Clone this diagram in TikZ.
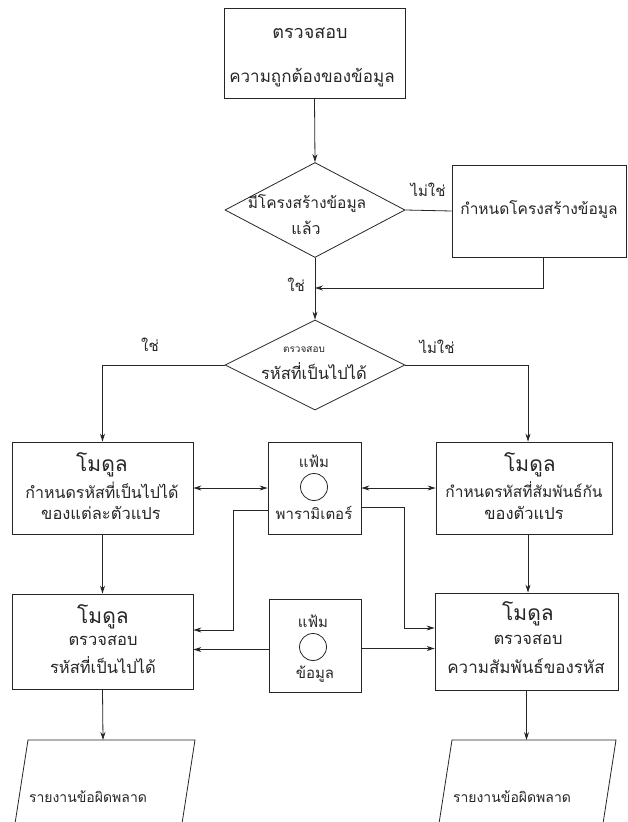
\documentclass[tikz,border=0pt]{standalone}
\usepackage{fontspec}
\newfontfamily\thaifont[Script=Thai]{Loma}
\usetikzlibrary{arrows.meta,shapes.geometric}
\newcommand{\fs}[1]{\thaifont\fontsize{#1}{#1}\selectfont}
\begin{document}
\begin{tikzpicture}[x=1pt,y=-1pt,
 font=\fs{16.5},
 ln/.style={draw=black!85, line width=0.8pt},
 arr/.style={ln, -{Stealth[length=8pt,width=5pt]}},
 darr/.style={ln, {Stealth[length=8pt,width=5pt]}-{Stealth[length=8pt,width=5pt]}},
 box/.style={draw=black!85, line width=0.8pt, rectangle, inner sep=0pt},
 dia/.style={draw=black!85, line width=0.8pt, diamond, inner sep=0pt},
 txt/.style={inner sep=0pt, text=black!85},
 big/.style={txt, font=\fs{21}},
 mid/.style={txt, font=\fs{15}},
 tiny/.style={txt, font=\fs{10}},
 lab/.style={txt, font=\fs{15}}
]
\useasboundingbox (0,0) rectangle (628,822);
\fill[white] (0,0) rectangle (628,822);

% top box
\node[box, minimum width=181pt, minimum height=90pt] (top) at (314.5,53) {};
\node[txt, font=\fs{18}] (t1) at (310,33) {ตรวจสอบ};
\node[txt, font=\fs{17}] (t2) at (312,78) {ความถูกต้องของข้อมูล};

% decision 1
\node[dia, minimum width=180pt, minimum height=95pt] (d1) at (315,210) {};
\node[txt, font=\fs{15.5}] (d1a) at (307,204) {มีโครงสร้างข้อมูล};
\node[txt, font=\fs{16}] (d1b) at (306,228) {แล้ว};

% define structure box
\node[box, minimum width=174pt, minimum height=92pt] (rb) at (539,211) {};
\node[txt, font=\fs{15.5}] (rbt) at (539,210) {กำหนดโครงสร้างข้อมูล};

% decision 2
\node[dia, minimum width=180pt, minimum height=90pt] (d2) at (315,365) {};
\node[tiny] (d2a) at (304,350) {ตรวจสอบ};
\node[txt] (d2b) at (314,371) {รหัสที่เป็นไปได้};

% row 1 boxes
\node[box, minimum width=181pt, minimum height=92pt] (lb1) at (102.5,488) {};
\node[big] (lb1a) at (102,465) {โมดูล};
\node[txt, font=\fs{16}] (lb1b) at (102,490) {กำหนดรหัสที่เป็นไปได้};
\node[txt] (lb1c) at (101,513) {ของแต่ละตัวแปร};

\node[box, minimum width=93pt, minimum height=92pt] (mb1) at (314.5,488) {};
\node[circle, draw=black!85, line width=0.8pt, minimum size=27pt, inner sep=0pt] (c1) at (314,487) {};
\node[mid] (mb1a) at (314,461) {แฟ้ม};
\node[mid] (mb1b) at (314,513) {พารามิเตอร์};

\node[box, minimum width=176pt, minimum height=92pt] (rb1) at (524,488) {};
\node[big] (rb1a) at (530,465) {โมดูล};
\node[txt, font=\fs{15.5}] (rb1b) at (524,490) {กำหนดรหัสที่สัมพันธ์กัน};
\node[txt] (rb1c) at (524,513) {ของตัวแปร};

% row 2 boxes
\node[box, minimum width=181pt, minimum height=95pt] (lb2) at (102.5,641.5) {};
\node[big] (lb2a) at (103,617) {โมดูล};
\node[txt] (lb2b) at (103,641) {ตรวจสอบ};
\node[txt] (lb2c) at (103,665) {รหัสที่เป็นไปได้};

\node[box, minimum width=92pt, minimum height=93pt] (mb2) at (315,645.5) {};
\node[circle, draw=black!85, line width=0.8pt, minimum size=27pt, inner sep=0pt] (c2) at (313,647) {};
\node[mid] (mb2a) at (313,621) {แฟ้ม};
\node[mid] (mb2b) at (315,674) {ข้อมูล};

\node[box, minimum width=183pt, minimum height=97pt] (rb2) at (526.5,641.5) {};
\node[big] (rb2a) at (528,614) {โมดูล};
\node[txt] (rb2b) at (528,640) {ตรวจสอบ};
\node[txt, font=\fs{17}] (rb2c) at (526,666) {ความสัมพันธ์ของรหัส};

% reports (parallelograms)
\draw[ln] (28,740) -- (195,740) -- (181,830) -- (14,830) -- cycle;
\coordinate (rep1) at (103,740);
\node[txt, font=\fs{14}] (rep1t) at (88,797) {รายงานข้อผิดพลาด};
\draw[ln] (452,740) -- (616,740) -- (602,830) -- (438,830) -- cycle;
\coordinate (rep2) at (526.5,740);
\node[txt, font=\fs{14}] (rep2t) at (512,797) {รายงานข้อผิดพลาด};

% labels
\node[lab] (l1) at (428,190) {ไม่ใช่};
\node[lab] (l2) at (296,285) {ใช่};
\node[lab] (l3) at (150,345) {ใช่};
\node[lab] (l4) at (437,347) {ไม่ใช่};

% connectors
\coordinate (j1) at (315,288);
\draw[arr] (top.south) -- (d1.north);
\draw[ln] (d1.east) -- (rb.west);
\draw[arr] ([xshift=4pt]rb.south) |- (j1);
\draw[arr] (d1.south) -- (d2.north);
\draw[arr] (d2.west) -| (lb1.north);
\draw[arr] (d2.east) -| ([xshift=4pt]rb1.north);
\draw[darr] (lb1.east) -- (mb1.west);
\draw[darr] (mb1.east) -- (rb1.west);
\draw[arr] ([yshift=-22pt]mb1.west) -- ++(-34,0) |- ([yshift=11.5pt]lb2.east);
\draw[arr] ([yshift=-19pt]mb1.east) -- ++(43,0) |- ([yshift=13.5pt]rb2.west);
\draw[arr] ([yshift=-4pt]mb2.west) -- ([yshift=-4pt]mb2.west -| lb2.east);
\draw[arr] ([yshift=-3pt]mb2.east) -- ([yshift=-3pt]mb2.east -| rb2.west);
\draw[arr] (lb1.south) -- (lb2.north);
\draw[arr] ([xshift=4pt]rb1.south) -- ([xshift=4pt]rb1.south |- rb2.north);
\draw[arr] (lb2.south) -- (rep1);
\draw[arr] (rb2.south) -- (rep2);
\end{tikzpicture}
\end{document}
